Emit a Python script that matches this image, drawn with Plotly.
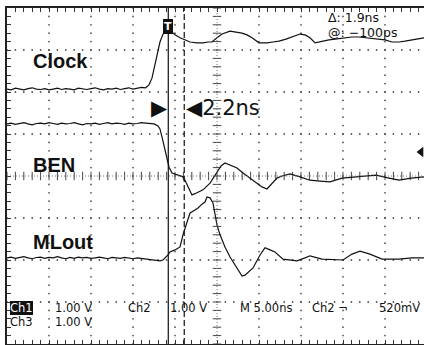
import plotly.graph_objects as go

# ---------------- data (time in ns, amplitude in screen divisions, 1 V/div) ----------------
clock_t = [-25.0,-24.5,-24.0,-23.5,-23.0,-22.5,-22.0,-21.5,-21.0,-20.5,-20.0,-19.5,-19.0,-18.5,-18.0,-17.5,-17.0,
           -16.5,-16.0,-15.5,-15.0,-14.5,-14.0,-13.5,-13.0,-12.5,-12.0,-11.5,-11.0,-10.5,-10.0,-9.5,-9.0,-8.5,
           -8.1,-7.74,-7.5,-7.14,-6.79,-6.43,-6.07,-5.83,-5.48,-5.0,-4.4,-3.81,-3.21,-2.38,-1.67,-1.07,-0.6,0.0,
           0.6,1.55,2.26,2.98,3.57,4.17,5.0,5.95,6.67,7.38,8.21,8.93,9.88,10.48,11.07,11.67,12.5,13.33,14.05,
           15.24,16.07,16.9,17.74,18.45,19.29,20.0,20.83,21.67,22.38,23.21,23.93,24.64]
clock_v = [2.07,2.05,2.09,2.07,2.05,2.08,2.10,2.07,2.06,2.08,2.05,2.07,2.09,2.06,2.08,2.07,2.05,
           2.09,2.07,2.06,2.08,2.10,2.07,2.05,2.08,2.07,2.09,2.06,2.08,2.10,2.07,2.09,2.11,2.10,
           2.17,2.33,2.57,2.88,3.19,3.38,3.45,3.48,3.45,3.36,3.29,3.24,3.19,3.17,3.17,3.19,3.19,3.29,
           3.38,3.45,3.43,3.40,3.36,3.29,3.17,3.17,3.19,3.21,3.26,3.31,3.38,3.36,3.29,3.17,3.21,3.24,3.26,
           3.29,3.31,3.31,3.29,3.29,3.26,3.24,3.19,3.19,3.21,3.24,3.26,3.29]

ben_t = [-25.0,-24.5,-24.0,-23.5,-23.0,-22.5,-22.0,-21.5,-21.0,-20.5,-20.0,-19.5,-19.0,-18.5,-18.0,-17.5,-17.0,
         -16.5,-16.0,-15.5,-15.0,-14.5,-14.0,-13.5,-13.0,-12.5,-12.0,-11.5,-11.0,-10.5,-10.0,-9.5,-9.0,-8.5,-8.0,-7.5,
         -7.02,-6.79,-6.55,-6.19,-5.95,-5.71,-5.36,-4.76,-4.05,-3.81,-3.57,-3.21,-2.98,-2.38,-1.67,-0.83,0.0,
         0.48,0.95,1.55,2.38,3.10,3.93,4.76,5.36,5.95,6.55,7.14,7.74,8.69,9.88,11.07,12.26,13.45,14.88,
         16.31,17.5,18.93,20.48,21.67,23.10,24.64]
ben_v = [1.24,1.26,1.23,1.25,1.27,1.24,1.22,1.25,1.26,1.24,1.27,1.25,1.23,1.26,1.24,1.25,1.27,
         1.24,1.22,1.25,1.24,1.26,1.23,1.25,1.27,1.24,1.26,1.25,1.23,1.26,1.24,1.25,1.27,1.26,1.25,1.24,
         1.19,1.12,0.93,0.62,0.43,0.21,0.07,0.02,-0.02,-0.10,-0.21,-0.36,-0.45,-0.40,-0.33,-0.17,0.10,
         0.24,0.31,0.26,0.19,0.07,-0.05,-0.17,-0.26,-0.31,-0.19,-0.05,0.0,0.05,-0.02,-0.10,-0.12,-0.14,-0.05,
         -0.02,0.0,0.02,-0.05,-0.10,-0.05,-0.02]

mlout_t = [-25.0,-24.5,-24.0,-23.5,-23.0,-22.5,-22.0,-21.5,-21.0,-20.5,-20.0,-19.5,-19.0,-18.5,-18.0,-17.5,-17.0,
           -16.5,-16.0,-15.5,-15.0,-14.5,-14.0,-13.5,-13.0,-12.5,-12.0,-11.5,-11.0,-10.5,-10.0,-9.5,-9.0,-8.5,-8.0,-7.5,
           -7.14,-6.79,-6.43,-6.07,-5.83,-5.60,-5.00,-4.40,-4.05,-3.57,-3.21,-2.62,-2.26,-1.79,-1.43,-1.19,-0.83,
           -0.48,-0.24,0.0,0.36,0.95,1.55,2.38,2.98,3.33,4.29,5.12,5.71,6.31,6.90,7.86,9.52,10.48,11.07,12.50,
           14.05,15.0,16.07,17.02,18.21,19.64,21.67,23.21,24.64]
mlout_v = [-1.95,-1.93,-1.96,-1.94,-1.92,-1.95,-1.97,-1.94,-1.93,-1.96,-1.94,-1.95,-1.92,-1.95,-1.97,-1.94,-1.96,
           -1.93,-1.95,-1.94,-1.96,-1.95,-1.93,-1.95,-1.97,-1.94,-1.95,-1.96,-1.94,-1.95,-1.97,-1.95,-1.96,-1.98,-1.99,-2.00,
           -2.00,-2.02,-2.00,-1.93,-1.88,-1.81,-1.76,-1.69,-1.40,-1.10,-0.88,-0.81,-0.76,-0.67,-0.62,-0.50,-0.52,
           -0.64,-0.88,-1.17,-1.40,-1.69,-1.93,-2.19,-2.38,-2.36,-2.19,-1.88,-1.71,-1.76,-1.81,-1.98,-2.02,-1.95,-1.90,-1.98,
           -2.00,-2.00,-1.86,-1.79,-1.86,-1.98,-1.98,-1.95,-1.95]

cursor1 = -5.8          # ns, solid cursor
cursor2 = -3.9          # ns, dashed cursor
trig_level = 0.57       # divisions, right-edge marker
label_names = ["Clock", "BEN", "MLout"]
label_levels = [2.75, 0.27, -1.56]

t_min, t_max = -25.0, 24.643
v_min, v_max = -4.0, 4.0

fig = go.Figure()

# ---------------- graticule dots ----------------
dot_x, dot_y = [], []
majors_t = [-20, -15, -10, -5, 5, 10, 15, 20]
majors_v = [-3, -2, -1, 1, 2, 3]
minor_t = [i * 1.0 for i in range(-25, 26)]
minor_v = [i * 0.2 for i in range(-20, 21)]
for mt in majors_t:
    for mv in minor_v:
        dot_x.append(mt); dot_y.append(mv)
for mv in majors_v:
    for mt in minor_t:
        dot_x.append(mt); dot_y.append(mv)
fig.add_trace(go.Scatter(x=dot_x, y=dot_y, mode="markers",
                         marker=dict(size=1.8, color="#555", line=dict(width=0)),
                         hoverinfo="skip", showlegend=False))

# center-line ticks
fig.add_trace(go.Scatter(x=[0] * len(minor_v), y=minor_v, mode="markers",
                         marker=dict(symbol="line-ew", size=6, line=dict(width=1, color="#444")),
                         hoverinfo="skip", showlegend=False))
fig.add_trace(go.Scatter(x=minor_t, y=[0] * len(minor_t), mode="markers",
                         marker=dict(symbol="line-ns", size=6, line=dict(width=1, color="#444")),
                         hoverinfo="skip", showlegend=False))
fig.add_shape(type="line", x0=0, x1=0, y0=v_min, y1=v_max, line=dict(color="#777", width=1, dash="1px,2px"))
fig.add_shape(type="line", x0=t_min, x1=t_max, y0=0, y1=0, line=dict(color="#777", width=1, dash="1px,2px"))

# ---------------- cursors ----------------
fig.add_shape(type="line", x0=cursor1, x1=cursor1, y0=v_min, y1=v_max, line=dict(color="#111", width=1.2))
fig.add_shape(type="line", x0=cursor2, x1=cursor2, y0=v_min, y1=v_max,
              line=dict(color="#111", width=1.2, dash="6px,3px"))

# ---------------- waveforms ----------------
for tt, vv in [(clock_t, clock_v), (ben_t, ben_v), (mlout_t, mlout_v)]:
    fig.add_trace(go.Scatter(x=tt, y=vv, mode="lines", line=dict(color="#111", width=1.2),
                             hoverinfo="skip", showlegend=False))

# right-edge level marker
fig.add_trace(go.Scatter(x=[t_max - 0.35], y=[trig_level], mode="markers",
                         marker=dict(symbol="triangle-left", size=9, color="#111"),
                         hoverinfo="skip", showlegend=False, cliponaxis=False))

big = dict(family="Liberation Sans, Arial", size=20, color="#111")
small = dict(family="DejaVu Sans", size=11.5, color="#111")
ann = []
for name, lvl in zip(label_names, label_levels):
    ann.append(dict(x=-21.9, y=lvl, text="<b>" + name + "</b>", font=big))
ann.append(dict(x=cursor1, y=1.63, text="\u25B6", xanchor="right", font=dict(family="DejaVu Sans", size=21, color="#111")))
ann.append(dict(x=cursor2 + 0.2, y=1.63, text="\u25C02.2ns", font=dict(family="DejaVu Sans", size=21, color="#111")))
ann.append(dict(x=cursor1, y=3.57, text="<b>T</b>", xanchor="center", bgcolor="#111", borderpad=1,
                font=dict(family="DejaVu Sans", size=11, color="white")))
ann.append(dict(x=13.2, y=3.78, text="\u0394: 1.9ns", font=dict(family="DejaVu Sans", size=12.5, color="#111")))
ann.append(dict(x=13.2, y=3.42, text="@: \u2212100ps", font=dict(family="DejaVu Sans", size=12.5, color="#111")))
ann.append(dict(x=-24.65, y=-3.15, text="Ch1", bgcolor="#111", font=dict(family="DejaVu Sans", size=11.5, color="white")))
ann.append(dict(x=-19.3, y=-3.15, text="1.00 V", font=small))
ann.append(dict(x=-10.6, y=-3.15, text="Ch2", font=small))
ann.append(dict(x=-5.6, y=-3.15, text="1.00 V", font=small))
ann.append(dict(x=-24.65, y=-3.48, text="Ch3", font=small))
ann.append(dict(x=-19.3, y=-3.48, text="1.00 V", font=small))
ann.append(dict(x=2.74, y=-3.15, text="M 5.00ns", font=small))
ann.append(dict(x=11.3, y=-3.15, text="Ch2 \u00AC", font=small))
ann.append(dict(x=19.3, y=-3.15, text="520mV", font=small))
for a in ann:
    a.setdefault("xanchor", "left")
    a.setdefault("borderpad", 0)
    a.update(xref="x", yref="y", yanchor="middle", showarrow=False, borderwidth=0)

fig.update_layout(
    width=424, height=345, autosize=False,
    margin=dict(l=7, r=0, t=8, b=1),
    paper_bgcolor="white", plot_bgcolor="white",
    annotations=ann,
    xaxis=dict(range=[t_min, t_max], showgrid=False, zeroline=False, showticklabels=False,
               showline=True, linewidth=2, linecolor="#222", mirror="ticks",
               ticks="inside", tick0=0, dtick=1, ticklen=4, tickcolor="#333", tickwidth=1),
    yaxis=dict(range=[v_min, v_max], showgrid=False, zeroline=False, showticklabels=False,
               showline=True, linewidth=2, linecolor="#222", mirror=False,
               ticks="inside", tick0=0, dtick=0.2, ticklen=4, tickcolor="#333", tickwidth=1),
)

fig.write_html("out.html")
